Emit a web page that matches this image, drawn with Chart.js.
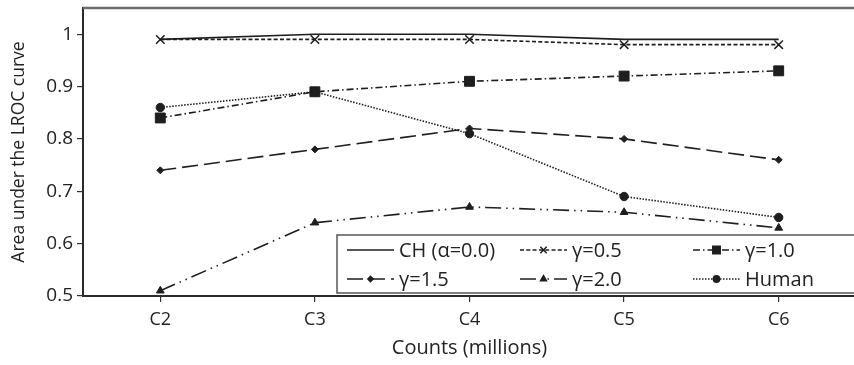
<!DOCTYPE html>
<html>
<head>
<meta charset="utf-8">
<script src="https://cdn.jsdelivr.net/npm/chart.js@4.4.1/dist/chart.umd.min.js"></script>
<style>
  html, body { margin: 0; padding: 0; background: #fff; overflow: hidden; }
  #wrap { position: relative; width: 864px; height: 365px; }
</style>
</head>
<body>
<div id="wrap"><canvas id="chart"></canvas></div>
<script>
// data
const categories = ['C2', 'C3', 'C4', 'C5', 'C6'];
const seriesNames = ['CH (\u03b1=0.0)', '\u03b3=0.5', '\u03b3=1.0', '\u03b3=1.5', '\u03b3=2.0', 'Human'];
const ch = [0.99, 1.00, 1.00, 0.99, 0.99];
const gamma05 = [0.99, 0.99, 0.99, 0.98, 0.98];
const gamma10 = [0.84, 0.89, 0.91, 0.92, 0.93];
const gamma15 = [0.74, 0.78, 0.82, 0.80, 0.76];
const gamma20 = [0.51, 0.64, 0.67, 0.66, 0.63];
const human = [0.86, 0.89, 0.81, 0.69, 0.65];
const yTicks = [0.5, 0.6, 0.7, 0.8, 0.9, 1];

const ink = '#1e1e1e';
const fontFamily = '"Open Sans", sans-serif';

function series(label, data, dash, pointStyle, radius) {
  return {
    label: label,
    data: data,
    borderColor: ink,
    backgroundColor: ink,
    borderWidth: 1.6,
    borderDash: dash,
    pointStyle: pointStyle,
    pointRadius: radius,
    pointBorderWidth: pointStyle === 'crossRot' ? 1.5 : 1,
    pointBorderColor: ink,
    pointBackgroundColor: ink,
    tension: 0,
    fill: false
  };
}

// legend drawn as a 3 column grid in a box, like the original
const legendBox = {
  id: 'legendBox',
  afterDatasetsDraw(chart) {
    const ctx = chart.ctx;
    const area = chart.chartArea;
    ctx.save();
    // frame top line
    ctx.strokeStyle = '#6e6e6e';
    ctx.lineWidth = 2.5;
    ctx.beginPath();
    ctx.moveTo(area.left, area.top);
    ctx.lineTo(area.right, area.top);
    ctx.stroke();

    const bx = 337, by = 235, bh = 58;
    ctx.fillStyle = '#fff';
    ctx.fillRect(bx, by, chart.width - bx + 5, bh);
    ctx.strokeStyle = '#555';
    ctx.lineWidth = 1.5;
    ctx.strokeRect(bx, by, chart.width - bx + 5, bh);

    ctx.font = '20px ' + fontFamily;
    ctx.textBaseline = 'middle';
    ctx.textAlign = 'left';
    chart.data.datasets.forEach((ds, i) => {
      const col = i % 3, row = Math.floor(i / 3);
      const x = 347 + col * 173;
      const y = 250 + row * 29;
      ctx.strokeStyle = ink;
      ctx.lineWidth = 1.5;
      ctx.setLineDash(ds.borderDash || []);
      ctx.beginPath();
      ctx.moveTo(x, y);
      ctx.lineTo(x + 47, y);
      ctx.stroke();
      ctx.setLineDash([]);
      if (ds.pointRadius > 0) {
        ctx.fillStyle = ink;
        Chart.helpers.drawPoint(ctx, {
          pointStyle: ds.pointStyle,
          radius: ds.pointRadius * 0.75,
          borderWidth: ds.pointBorderWidth
        }, x + 23.5, y);
      }
      ctx.fillStyle = '#222';
      ctx.fillText(ds.label, x + 52, y + 1);
    });
    ctx.restore();
  }
};

new Chart(document.getElementById('chart'), {
  type: 'line',
  data: {
    labels: categories,
    datasets: [
      series(seriesNames[0], ch, [], 'circle', 0),
      series(seriesNames[1], gamma05, [4, 2.3], 'crossRot', 6),
      series(seriesNames[2], gamma10, [7, 3, 1.5, 3], 'rect', 7),
      series(seriesNames[3], gamma15, [16, 6], 'rectRot', 3.5),
      series(seriesNames[4], gamma20, [16, 5, 1.5, 5, 1.5, 5], 'triangle', 4.5),
      series(seriesNames[5], human, [1.5, 1.5], 'circle', 4.2)
    ]
  },
  options: {
    responsive: true,
    maintainAspectRatio: false,
    animation: false,
    layout: { padding: { top: 4, right: 0, left: 0, bottom: 0 } },
    plugins: {
      legend: { display: false },
      tooltip: { enabled: false }
    },
    scales: {
      x: {
        offset: true,
        grid: { display: true, drawOnChartArea: false, offset: false, tickLength: 6, color: '#333', lineWidth: 1.2 },
        border: { display: true, color: '#2a2a2a', width: 2 },
        ticks: { color: '#222', font: { family: fontFamily, size: 18 }, padding: 7 },
        title: { display: true, text: 'Counts (millions)', color: '#222', font: { family: fontFamily, size: 20 }, padding: { top: 0, bottom: 5 } },
        afterFit(scale) { scale.height = 69; scale.paddingLeft = 0; scale.paddingRight = 0; }
      },
      y: {
        min: 0.5,
        max: 1.05,
        grid: { display: true, drawOnChartArea: false, tickLength: 6, color: '#333', lineWidth: 1.2 },
        border: { display: true, color: '#2a2a2a', width: 2 },
        ticks: {
          color: '#222',
          font: { family: fontFamily, size: 19 },
          padding: 4,
          callback: (v) => String(Math.round(v * 10) / 10)
        },
        afterBuildTicks(scale) { scale.ticks = yTicks.map(v => ({ value: v })); },
        title: { display: true, text: 'Area under the LROC curve', color: '#222', font: { family: fontFamily, size: 17.5 }, padding: { top: 9, bottom: 0 } },
        afterFit(scale) { scale.width = 83; scale.paddingTop = 0; scale.paddingBottom = 0; }
      }
    }
  },
  plugins: [legendBox]
});
</script>
</body>
</html>
